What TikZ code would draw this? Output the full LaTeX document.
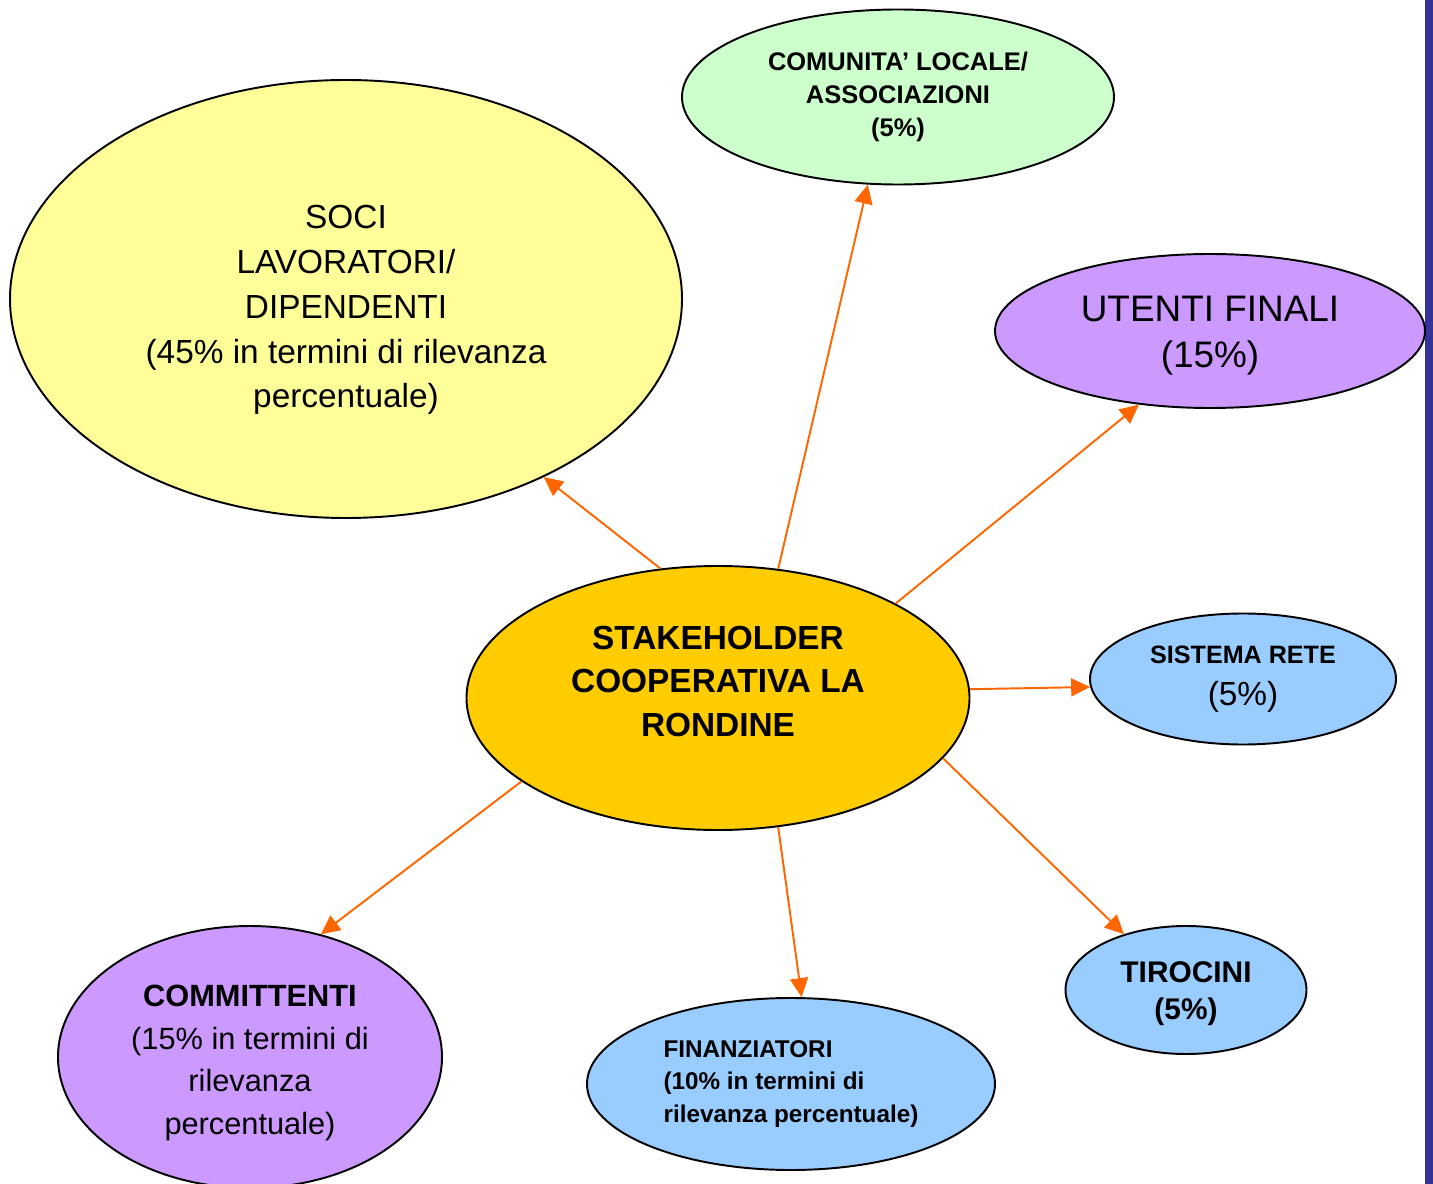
\documentclass[tikz,border=0pt]{standalone}
\usepackage{fontspec}
\setmainfont{Liberation Sans}
\usetikzlibrary{arrows.meta,shapes.geometric}
\definecolor{cSoci}{HTML}{FFFF99}
\definecolor{cCom}{HTML}{CCFFCC}
\definecolor{cLil}{HTML}{CC99FF}
\definecolor{cCen}{HTML}{FFCC00}
\definecolor{cSky}{HTML}{99CCFF}
\definecolor{cArr}{HTML}{FF6600}
\definecolor{cBar}{HTML}{333399}
\tikzset{
  blob/.style={ellipse,draw=black,line width=1.1pt,inner sep=0pt,align=center},
  link/.style={-{Triangle[length=3.8mm,width=3.6mm]},line width=1.1pt,cArr},
}
\newcommand{\fs}[2]{\fontsize{#1}{#2}\selectfont}

\begin{document}
\begin{tikzpicture}[scale=1]
  \useasboundingbox (0,0) rectangle (28.66,-23.68);
  \fill[cBar] (28.5,0) rectangle (28.66,-23.68);
  % stakeholder bubbles
  \node[blob,fill=cSoci,minimum width=13.44cm,minimum height=8.76cm,font=\fs{19}{25.5}]
    (soci) at (6.92,-5.98){\rule{0pt}{26pt}SOCI\\LAVORATORI/\\DIPENDENTI\\(45\% in termini di rilevanza\\percentuale)};
  \node[blob,fill=cCom,minimum width=8.64cm,minimum height=3.5cm,font=\bfseries\fs{14.5}{18.7}]
    (comu) at (17.96,-1.94){COMUNITA’ LOCALE/\\ASSOCIAZIONI\\(5\%)};
  \node[blob,fill=cLil,minimum width=8.6cm,minimum height=3.08cm,font=\fs{21}{26}]
    (uten) at (24.2,-6.62){\rule{0pt}{20pt}UTENTI FINALI\\(15\%)};
  \node[blob,fill=cCen,minimum width=10.06cm,minimum height=5.28cm,font=\bfseries\fs{19}{25}]
    (stake) at (14.36,-13.96){STAKEHOLDER\\COOPERATIVA LA\\RONDINE\\[-6pt]};
  \node[blob,fill=cSky,minimum width=6.12cm,minimum height=2.62cm,font=\fs{19}{24}]
    (rete) at (24.86,-13.58){{\bfseries\fs{14.3}{16}SISTEMA RETE}\\(5\%)};
  \node[blob,fill=cSky,minimum width=4.82cm,minimum height=2.56cm,font=\bfseries\fs{17}{21}]
    (tiro) at (23.72,-19.8){\rule{0pt}{16pt}TIROCINI\\(5\%)};
  \node[blob,fill=cSky,minimum width=8.16cm,minimum height=3.44cm,font=\bfseries\fs{13.8}{18.7},align=left]
    (fina) at (15.82,-21.68){FINANZIATORI\\(10\% in termini di\\rilevanza percentuale)};
  \node[blob,fill=cLil,minimum width=7.68cm,minimum height=5.24cm,font=\fs{17.5}{24.4}]
    (comm) at (5.0,-21.14){\rule{0pt}{19pt}\textbf{COMMITTENTI}\\(15\% in termini di\\rilevanza\\percentuale)};
  % arrows out of the centre
  \draw[link] (stake.114) -- (soci.-42);
  \draw[link] (stake.65) -- (comu.251);
  \draw[link] (stake.28) -- (uten.226);
  \draw[link] (stake.2.5) -- (rete.183);
  \draw[link] (stake.-15) -- (tiro.138);
  \draw[link] (stake.-65) -- (fina.83);
  \draw[link] (stake.203) -- (comm.60);
\end{tikzpicture}
\end{document}
